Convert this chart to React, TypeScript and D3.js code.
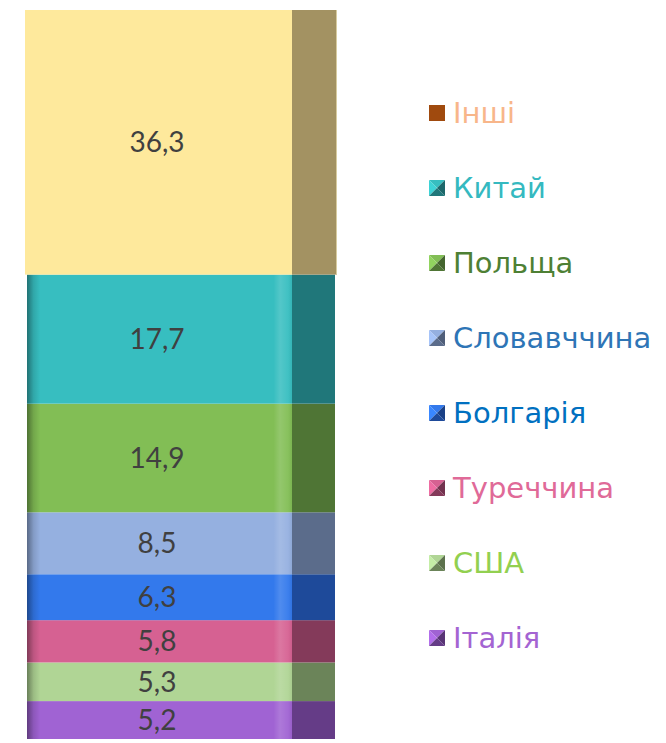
import React from "react";
import * as d3 from "d3";

// stack order: bottom -> top
const countries = ["Італія", "США", "Туреччина", "Болгарія", "Словавччина", "Польща", "Китай", "Інші"];
const shares = [5.2, 5.3, 5.8, 6.3, 8.5, 14.9, 17.7, 36.3];
const frontColors = ["#A063D3", "#B0D595", "#D66192", "#3379EC", "#95B0E0", "#82BE55", "#37BEC0", "#FEE99C"];
const sideColors = ["#653C87", "#6B8459", "#843A5A", "#1E4A9A", "#5B6C8B", "#4F7535", "#20777A", "#A39262"];
const legendTextColors = ["#A464D2", "#92D050", "#E06A98", "#0070C0", "#2E75B6", "#4E8034", "#35B9C0", "#F8B68A"];

const W = 666;
const H = 743;

export default function App() {
  const y = d3.scaleLinear().domain([0, d3.sum(shares)]).range([739, 10]);
  const ends = d3.cumsum(shares);
  const segs = shares.map((v, i) => ({
    name: countries[i],
    value: v,
    y0: ends[i] - v,
    y1: ends[i],
    front: frontColors[i],
    side: sideColors[i],
    text: legendTextColors[i],
  }));

  const x0 = 27, xf = 292, xs = 335;
  const label = d3.format(".1f");

  // legend listed top -> bottom
  const legendItems = segs.slice().reverse();
  const ly = d3.scalePoint<string>().domain(legendItems.map(d => d.name)).range([113, 638]);

  return (
    <svg width={W} height={H} style={{ position: "absolute", left: 0, top: 0 }}>
      <defs>
        <linearGradient id="bevel" x1="0" x2="1" y1="0" y2="0">
          <stop offset="0" stopColor="#000" stopOpacity={0.4} />
          <stop offset="0.025" stopColor="#000" stopOpacity={0.12} />
          <stop offset="0.05" stopColor="#000" stopOpacity={0} />
          <stop offset="0.93" stopColor="#fff" stopOpacity={0} />
          <stop offset="0.955" stopColor="#fff" stopOpacity={0.14} />
          <stop offset="0.985" stopColor="#fff" stopOpacity={0.05} />
          <stop offset="1" stopColor="#000" stopOpacity={0.05} />
        </linearGradient>
      </defs>
      <rect width={W} height={H} fill="#fff" />
      {segs.map((d, i) => {
        const top = y(d.y1), bot = y(d.y0);
        const isTop = i === segs.length - 1;
        const l = isTop ? 25 : x0;
        const r = isTop ? 337 : xs;
        return (
          <g key={d.name}>
            <rect x={l} y={top} width={xf - l} height={bot - top} fill={d.front} />
            <rect x={xf} y={top} width={r - xf} height={bot - top} fill={d.side} />
            {!isTop && <rect x={x0} y={top} width={xf - x0} height={bot - top} fill="url(#bevel)" />}
            {isTop && <rect x={r - 1} y={top} width={1} height={bot - top} fill="#d8cca0" />}
            <text
              x={157}
              y={(top + bot) / 2}
              dy="0.36em"
              textAnchor="middle"
              fontFamily="Lato, 'Open Sans', sans-serif"
              fontSize={28}
              fill="#404040"
            >
              {label(d.value).replace(".", ",")}
            </text>
          </g>
        );
      })}
      {legendItems.map((d, i) => {
        const cy = ly(d.name)!;
        const s = 16, mx = 429, my = cy - s / 2;
        const c = { x: mx + s / 2, y: cy };
        const flat = i === 0;
        const light = d3.color(d.front)!.brighter(0.3).formatHex();
        const dark = d3.color(d.side)!.darker(0.4).formatHex();
        return (
          <g key={d.name}>
            {flat ? (
              <rect x={mx} y={my} width={s} height={s} fill="#A04A0E" />
            ) : (
              <g>
                <polygon points={`${mx},${my} ${mx + s},${my} ${c.x},${c.y}`} fill={d.front} />
                <polygon points={`${mx},${my} ${mx},${my + s} ${c.x},${c.y}`} fill={light} />
                <polygon points={`${mx + s},${my} ${mx + s},${my + s} ${c.x},${c.y}`} fill={dark} />
                <polygon points={`${mx},${my + s} ${mx + s},${my + s} ${c.x},${c.y}`} fill={d.side} />
              </g>
            )}
            <text
              x={453}
              y={cy}
              dy="0.36em"
              fontFamily="'DejaVu Sans', Verdana, sans-serif"
              fontSize={29}
              fill={d.text}
            >
              {d.name}
            </text>
          </g>
        );
      })}
    </svg>
  );
}
